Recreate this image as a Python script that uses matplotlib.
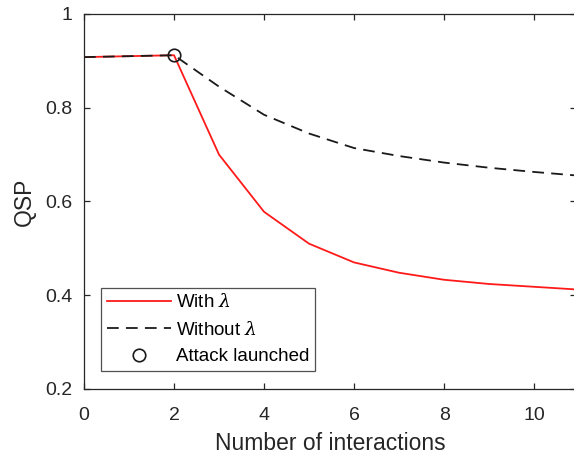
import matplotlib
matplotlib.use("Agg")
import matplotlib.pyplot as plt

# values
interactions = [0, 1, 2, 3, 4, 5, 6, 7, 8, 9, 10, 11]
qsp_with = [0.908, 0.910, 0.912, 0.700, 0.578, 0.510, 0.470, 0.448, 0.433, 0.424, 0.418, 0.412]
qsp_without = [0.908, 0.910, 0.912, 0.845, 0.785, 0.745, 0.714, 0.697, 0.683, 0.672, 0.663, 0.655]
attack_x = [2]
attack_y = [0.912]

GREY = '#262626'


def make_figure():
    plt.rcParams['font.family'] = ['Liberation Sans', 'DejaVu Sans']
    plt.rcParams['mathtext.fontset'] = 'dejavuserif'
    fig = plt.figure(figsize=(5.74, 4.57), dpi=100)
    ax = fig.add_axes([0.1463, 0.1488, 0.8572, 0.8206])

    ax.plot(interactions, qsp_with, color='#ff1a1a', lw=1.3, label=r'With $\lambda$')
    ax.plot(interactions, qsp_without, color='#1a1a1a', lw=1.3,
            dashes=(6.5, 4), label=r'Without $\lambda$')
    ax.plot(attack_x, attack_y, 'o', ms=9, mfc='none', mec='#1a1a1a', mew=1.2,
            label='Attack launched')

    ax.set_xlim(0, 10.93)
    ax.set_ylim(0.2, 1.0)
    ax.set_xticks([0, 2, 4, 6, 8, 10])
    ax.set_yticks([0.2, 0.4, 0.6, 0.8, 1.0])
    ax.set_yticklabels(['0.2', '0.4', '0.6', '0.8', '1'])

    ax.tick_params(direction='in', length=4, width=0.9, colors=GREY,
                   labelsize=14, top=True, right=True)
    ax.tick_params(axis='x', pad=13)
    ax.tick_params(axis='y', pad=8)
    for sp in ax.spines.values():
        sp.set_color(GREY)
        sp.set_linewidth(0.9)

    ax.set_xlabel('Number of interactions', fontsize=16.5, color=GREY, labelpad=6)
    ax.set_ylabel('QSP', fontsize=16.5, color=GREY, labelpad=7)

    leg = ax.legend(loc='lower left', bbox_to_anchor=(0.035, 0.048), fontsize=13.5,
                    frameon=True, fancybox=False, edgecolor=GREY,
                    handlelength=3.4, handletextpad=0.27, borderpad=0.3,
                    labelspacing=0.5, borderaxespad=0)
    leg.get_frame().set_linewidth(0.9)

    fig.savefig('out.png', dpi=100)


def main():
    make_figure()


if __name__ == "__main__":
    main()
